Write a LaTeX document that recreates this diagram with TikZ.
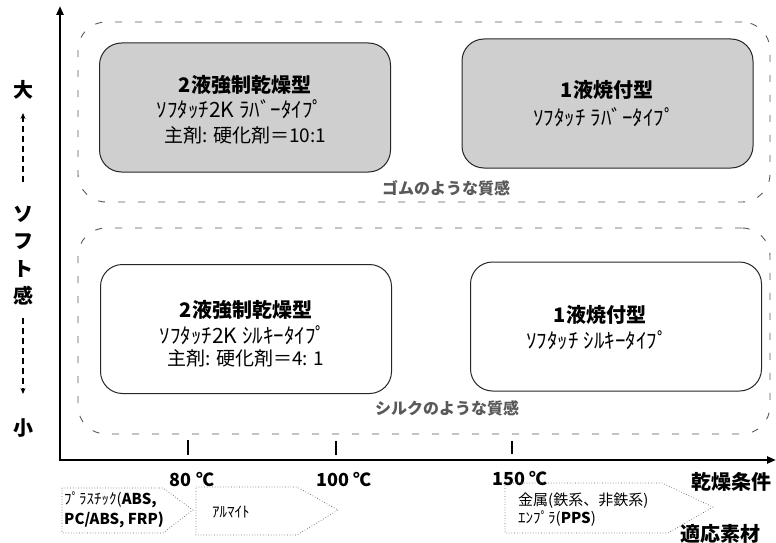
\documentclass[tikz,border=0pt]{standalone}
\usepackage{fontspec}
\setmainfont{Noto Sans CJK JP}
\usetikzlibrary{arrows.meta}
\begin{document}
\begin{tikzpicture}[x=1pt,y=-1pt,
  region/.style={draw=black!65, line width=0.9pt, dash pattern=on 7pt off 13pt, rounded corners=28pt, minimum width=692pt, inner sep=0pt},
  cbox/.style={draw=black!85, line width=1pt, rounded corners=22pt, minimum width=291pt, minimum height=129pt, inner sep=0pt},
  graybox/.style={cbox, fill=black!19},
  ttl/.style={font=\bfseries\fontsize{20}{22}\selectfont, inner sep=0pt},
  kata/.style={font=\fontsize{21}{23}\selectfont, inner sep=0pt},
  ratio/.style={font=\fontsize{19}{21}\selectfont, inner sep=0pt},
  feel/.style={font=\bfseries\fontsize{16}{18}\selectfont, text=black!65, inner sep=0pt},
  axis/.style={line width=2.6pt, {Triangle[length=9pt,width=7pt]}-{Triangle[length=9pt,width=7pt]}},
  tickmark/.style={line width=2pt},
  temp/.style={font=\bfseries\fontsize{18}{20}\selectfont, inner sep=0pt},
  side/.style={font=\bfseries\fontsize{20}{22}\selectfont, inner sep=0pt},
  sidearrow/.style={line width=1.3pt, dash pattern=on 6pt off 4pt, -{Stealth[length=6pt,width=5pt]}},
  mat/.style={draw=black!60, line width=0.7pt, dotted},
  mattxt/.style={font=\fontsize{15}{17}\selectfont, anchor=west, inner sep=0pt},
]
\useasboundingbox (0,0) rectangle (776,543);

% regions
\node[region, minimum height=180pt] (rubber) at (424,112) {};
\node[region, minimum height=206pt] (silk) at (424,331) {};
\node[feel] (rubberlbl) at (446,188) {ゴムのような質感};
\node[feel] (silklbl) at (447,408) {シルクのような質感};

% boxes
\node[graybox] (tl) at (245,107.5) {};
\node[ttl] (tl1) at (245,85) {2液強制乾燥型};
\node[kata] (tl2) at (240,109) {ｿﾌﾀｯﾁ2K ﾗﾊﾞｰﾀｲﾌﾟ};
\node[ratio] (tl3) at (245,135) {主剤: 硬化剤＝10:1};

\node[graybox] (tr) at (607.5,103.5) {};
\node[ttl] (tr1) at (607,90) {1液焼付型};
\node[kata] (tr2) at (604,117) {ｿﾌﾀｯﾁ ﾗﾊﾞｰﾀｲﾌﾟ};

\node[cbox, fill=white] (bl) at (246,329) {};
\node[ttl] (bl1) at (246,310) {2液強制乾燥型};
\node[kata] (bl2) at (243,335) {ｿﾌﾀｯﾁ2K ｼﾙｷｰﾀｲﾌﾟ};
\node[ratio] (bl3) at (246,358) {主剤: 硬化剤＝4: 1};

\node[cbox, fill=white] (br) at (616,326.5) {};
\node[ttl] (br1) at (600,315) {1液焼付型};
\node[kata] (br2) at (597,340) {ｿﾌﾀｯﾁ ｼﾙｷｰﾀｲﾌﾟ};

% axes
\coordinate (O) at (60,460);
\coordinate (ytop) at (60,6);
\coordinate (xend) at (776,460);
\draw[axis] (ytop) -- (O) -- (xend);

% ticks
\coordinate (t80a) at (188,440); \coordinate (t80b) at (188,455);
\coordinate (t100a) at (336,441); \coordinate (t100b) at (336,455);
\coordinate (t150a) at (512,441); \coordinate (t150b) at (512,454);
\draw[tickmark] (t80a) -- (t80b);
\draw[tickmark] (t100a) -- (t100b);
\draw[tickmark] (t150a) -- (t150b);
\node[temp] (l80) at (192,480) {80 ℃};
\node[temp] (l100) at (344,480) {100 ℃};
\node[temp] (l150) at (520,479) {150 ℃};
\node[side] (dry) at (731,482) {乾燥条件};
\node[side] (mater) at (720,534) {適応素材};

% side labels
\node[side] (dai) at (23,90) {大};
\coordinate (upa) at (23,182); \coordinate (upb) at (23,113);
\draw[sidearrow] (upa) -- (upb);
\node[side] (so) at (23,214) {ソ};
\node[side] (fu) at (23,242) {フ};
\node[side] (to) at (23,269) {ト};
\node[side] (kan) at (23,296) {感};
\coordinate (dna) at (23,318); \coordinate (dnb) at (23,394);
\draw[sidearrow] (dna) -- (dnb);
\node[side] (sho) at (23,428) {小};

% materials
\draw[mat] (62,488) -- (163,488) -- (193,510) -- (163,533) -- (62,533) -- cycle;
\node[mattxt] (p1) at (64,500) {ﾌﾟﾗｽﾁｯｸ(\textbf{ABS,}};
\node[mattxt] (p2) at (64,520) {\textbf{PC/ABS, FRP)}};
\draw[mat] (196,487) -- (297,487) -- (338,510) -- (297,535) -- (196,535) -- cycle;
\node[mattxt] (al) at (212,512) {ｱﾙﾏｲﾄ};
\draw[mat] (505,483) -- (662,483) -- (713,507) -- (668,533) -- (505,533) -- cycle;
\node[mattxt] (m1) at (518,501) {金属(鉄系、非鉄系)};
\node[mattxt] (m2) at (518,519) {ｴﾝﾌﾟﾗ(\textbf{PPS})};
\end{tikzpicture}
\end{document}
